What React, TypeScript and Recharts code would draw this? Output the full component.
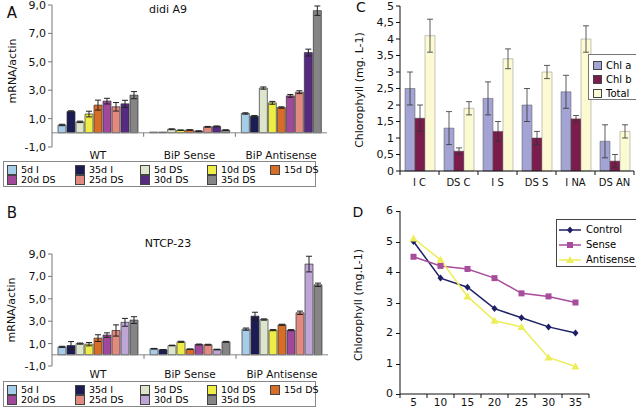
import React from 'react';
import { Bar, BarChart, ComposedChart, ErrorBar, Line, ReferenceLine, XAxis, YAxis } from 'recharts';

// panels A and B: mRNA/actin
const groups = ['WT', 'BiP Sense', 'BiP Antisense'];
const timePoints = ['5d I', '35d I', '5d DS', '10d DS', '15d DS', '20d DS', '25d DS', '30d DS', '35d DS'];

const didiWT = [0.55, 1.5, 0.77, 1.32, 1.95, 2.23, 1.83, 2.04, 2.65];
const didiWTErr = [0.05, 0.05, 0.05, 0.2, 0.35, 0.2, 0.3, 0.25, 0.25];
const didiSense = [0.05, 0.05, 0.25, 0.18, 0.2, 0.12, 0.42, 0.45, 0.19];
const didiSenseErr = [0, 0, 0.03, 0.02, 0.02, 0.02, 0.03, 0.03, 0.02];
const didiAnti = [1.36, 1.17, 3.15, 2.11, 1.78, 2.6, 2.86, 5.65, 8.6];
const didiAntiErr = [0.05, 0.05, 0.08, 0.1, 0.05, 0.1, 0.1, 0.24, 0.33];

const ntcpWT = [0.71, 0.83, 1.0, 0.95, 1.49, 1.76, 2.17, 2.9, 3.1];
const ntcpWTErr = [0.05, 0.35, 0.05, 0.15, 0.3, 0.2, 0.5, 0.35, 0.3];
const ntcpSense = [0.54, 0.45, 0.83, 1.16, 0.5, 0.92, 0.9, 0.47, 1.16];
const ntcpSenseErr = [0.03, 0.02, 0.03, 0.05, 0.02, 0.04, 0.04, 0.03, 0.04];
const ntcpAnti = [2.29, 3.45, 3.15, 2.2, 2.68, 2.2, 3.75, 8.1, 6.25];
const ntcpAntiErr = [0.1, 0.35, 0.06, 0.05, 0.05, 0.05, 0.15, 0.7, 0.15];

const mrnaTicks = [-1, 1, 3, 5, 7, 9];

const colorsA = ['#a6cde8', '#1c1c54', '#dde6cc', '#eded45', '#d86d28', '#a0489a', '#e08a80', '#552a80', '#858585'];
const colorsB = ['#a6cde8', '#1c1c54', '#dde6cc', '#eded45', '#d86d28', '#a0489a', '#e08a80', '#bda6d6', '#858585'];

// panel C: chlorophyll per line
const lines = ['I C', 'DS C', 'I S', 'DS S', 'I NA', 'DS AN'];
const chlA = [2.5, 1.3, 2.2, 2.0, 2.4, 0.9];
const chlAErr = [0.5, 0.5, 0.5, 0.5, 0.5, 0.5];
const chlB = [1.6, 0.6, 1.2, 1.0, 1.58, 0.3];
const chlBErr = [0.4, 0.1, 0.3, 0.2, 0.1, 0.2];
const chlTotal = [4.1, 1.9, 3.4, 3.0, 4.0, 1.2];
const chlTotalErr = [0.5, 0.2, 0.3, 0.2, 0.4, 0.2];
const chlTicks = [0, 0.5, 1, 1.5, 2, 2.5, 3, 3.5, 4, 4.5, 5];

// panel D: chlorophyll over days
const days = ['5', '10', '15', '20', '25', '30', '35'];
const control = [5.0, 3.8, 3.5, 2.8, 2.5, 2.2, 2.0];
const sense = [4.5, 4.2, 4.1, 3.8, 3.3, 3.2, 3.0];
const antisense = [5.1, 4.4, 3.2, 2.4, 2.2, 1.2, 0.9];
const dayTicksY = [0, 1, 2, 3, 4, 5, 6];

const FONT = '"DejaVu Sans", Verdana, sans-serif';

// panel D plot box inside the page (used for its value labels)
const D_TOP = 211;
const D_H = 183;
const D_MAX = 6;

function buildGroupRows(vals: number[][], errs: number[][]) {
  return groups.map((g, gi) => {
    const row: Record<string, any> = { group: g };
    timePoints.forEach((_, i) => {
      row['v' + i] = vals[gi][i];
      row['e' + i] = errs[gi][i];
    });
    return row;
  });
}

const didiRows = buildGroupRows([didiWT, didiSense, didiAnti], [didiWTErr, didiSenseErr, didiAntiErr]);
const ntcpRows = buildGroupRows([ntcpWT, ntcpSense, ntcpAnti], [ntcpWTErr, ntcpSenseErr, ntcpAntiErr]);

const chlRows = lines.map((l, i) => ({
  line: l,
  a: chlA[i], ae: chlAErr[i],
  b: chlB[i], be: chlBErr[i],
  t: chlTotal[i], te: chlTotalErr[i],
}));

const dayRows = days.map((d, i) => ({ day: d, control: control[i], sense: sense[i], antisense: antisense[i] }));

const comma = (v: number) => v.toFixed(1).replace('.', ',');
const commaShort = (v: number) => String(v).replace('.', ',');

// category label under the plot, with a small tick on the zero line between groups
function makeGroupTick(half: number, zeroUp: number) {
  return (props: any) => {
    const { x, y, payload, index } = props;
    return (
      <g>
        {index > 0 && <line x1={x - half} x2={x - half} y1={y - zeroUp} y2={y - zeroUp + 4} stroke="#777" />}
        <text x={x} y={y + 5} dy="0.71em" textAnchor="middle" fontSize={10.5} fill="#111" fontFamily={FONT}>
          {payload.value}
        </text>
      </g>
    );
  };
}

// tick marks between categories, label in the middle
function makeEdgeTick(half: number, count: number, gap: number, size: number) {
  return (props: any) => {
    const { x, y, payload, index } = props;
    return (
      <g>
        <line x1={x - half} x2={x - half} y1={y} y2={y + 4} stroke="#111" />
        {index === count - 1 && <line x1={x + half} x2={x + half} y1={y} y2={y + 4} stroke="#111" />}
        <text x={x} y={y + gap} dy="0.71em" textAnchor="middle" fontSize={size} fill="#111" fontFamily={FONT}>
          {payload.value}
        </text>
      </g>
    );
  };
}

function diamond(color: string) {
  return (p: any) => (
    <polygon key={p.index} points={`${p.cx},${p.cy - 3.5} ${p.cx + 3},${p.cy} ${p.cx},${p.cy + 3.5} ${p.cx - 3},${p.cy}`} fill={color} />
  );
}
function square(color: string) {
  return (p: any) => <rect key={p.index} x={p.cx - 3} y={p.cy - 3} width={6} height={6} fill={color} />;
}
function triangle(color: string) {
  return (p: any) => (
    <polygon key={p.index} points={`${p.cx},${p.cy - 4} ${p.cx + 4},${p.cy + 3} ${p.cx - 4},${p.cy + 3}`} fill={color} />
  );
}

function Text({ x, y, size = 11, children, rotate = false }: any) {
  return (
    <div
      style={{
        position: 'absolute', left: x, top: y, fontSize: size, fontFamily: FONT, color: '#111',
        whiteSpace: 'nowrap', lineHeight: 1, pointerEvents: 'none',
        transform: rotate ? 'translate(-50%, -50%) rotate(-90deg)' : 'translate(-50%, -50%)',
      }}
    >
      {children}
    </div>
  );
}

function TimeLegend({ top, colors }: { top: number; colors: string[] }) {
  const cols = [6, 74, 139, 206, 269];
  return (
    <div style={{ position: 'absolute', left: 3, top, width: 313, height: 26, border: '1px solid #888', boxSizing: 'border-box' }}>
      {timePoints.map((t, i) => (
        <div
          key={t}
          style={{
            position: 'absolute', left: cols[i % 5] - 3, top: i < 5 ? 3 : 13, whiteSpace: 'nowrap',
            display: 'flex', alignItems: 'center', fontSize: 9.5, fontFamily: FONT, lineHeight: '10px',
          }}
        >
          <span style={{ width: 8, height: 8, background: colors[i], border: '1px solid #444', marginRight: 4, display: 'inline-block' }} />
          {t}
        </div>
      ))}
    </div>
  );
}

function MrnaChart({ rows, colors, width, height, margin, xHeight, half, zeroUp }: any) {
  return (
    <BarChart width={width} height={height} data={rows} margin={margin} barGap={1}>
      <XAxis
        dataKey="group"
        axisLine={false}
        tickLine={false}
        tickSize={0}
        tickMargin={0}
        height={xHeight}
        interval={0}
        tick={makeGroupTick(half, zeroUp)}
      />
      <YAxis
        domain={[-1, 9]}
        ticks={mrnaTicks}
        tickFormatter={comma}
        width={52}
        stroke="#777"
        tickSize={4}
        tick={{ fill: '#111', fontSize: 11, fontFamily: FONT }}
        interval={0}
      />
      <ReferenceLine y={0} stroke="#888" />
      {timePoints.map((t, i) => (
        <Bar key={t} dataKey={'v' + i} name={t} fill={colors[i]} stroke="#333" strokeWidth={0.7} barSize={8} isAnimationActive={false}>
          <ErrorBar dataKey={'e' + i} width={3} stroke="#222" strokeWidth={1} direction="y" />
        </Bar>
      ))}
    </BarChart>
  );
}

const legendItem = { display: 'flex', alignItems: 'center', height: 14, whiteSpace: 'nowrap' } as const;

export default function App() {
  return (
    <div style={{ position: 'absolute', left: 0, top: 0, width: 636, height: 410, background: '#fff', overflow: 'hidden', fontFamily: FONT }}>
      {/* A */}
      <div style={{ position: 'absolute', left: 0, top: 0 }}>
        <MrnaChart
          rows={didiRows}
          colors={colorsA}
          width={330}
          height={160}
          margin={{ top: 5, right: 3, bottom: 0, left: 0 }}
          xHeight={13}
          half={275 / 6}
          zeroUp={14.2}
        />
      </div>
      <Text x={12} y={13} size={15}>A</Text>
      <Text x={168} y={9} size={11}>didi A9</Text>
      <Text x={12} y={71} size={11} rotate>mRNA/actin</Text>
      <TimeLegend top={161} colors={colorsA} />

      {/* B */}
      <div style={{ position: 'absolute', left: 0, top: 240 }}>
        <MrnaChart
          rows={ntcpRows}
          colors={colorsB}
          width={330}
          height={140}
          margin={{ top: 14, right: 2, bottom: 0, left: 0 }}
          xHeight={14}
          half={276 / 6}
          zeroUp={11.2}
        />
      </div>
      <Text x={12} y={213} size={15}>B</Text>
      <Text x={168} y={243} size={11}>NTCP-23</Text>
      <Text x={11} y={310} size={11} rotate>mRNA/actin</Text>
      <TimeLegend top={381} colors={colorsB} />

      {/* C */}
      <div style={{ position: 'absolute', left: 330, top: 0 }}>
        <BarChart width={306} height={195} data={chlRows} margin={{ top: 6, right: 2, bottom: 0, left: 0 }} barGap={0}>
          <XAxis
            dataKey="line"
            stroke="#111"
            tickLine={false}
            tickSize={0}
            tickMargin={0}
            height={24}
            interval={0}
            tick={makeEdgeTick(234 / 12, lines.length, 8, 10)}
          />
          <YAxis
            domain={[0, 5]}
            ticks={chlTicks}
            tickFormatter={commaShort}
            width={70}
            stroke="#111"
            tickSize={4}
            interval={0}
            tick={{ fill: '#111', fontSize: 11, fontFamily: FONT }}
          />
          <Bar dataKey="a" name="Chl a" fill="#a3a3d4" stroke="#555" strokeWidth={0.5} barSize={10} isAnimationActive={false}>
            <ErrorBar dataKey="ae" width={3} stroke="#333" strokeWidth={0.8} direction="y" />
          </Bar>
          <Bar dataKey="b" name="Chl b" fill="#7a1c4c" stroke="#555" strokeWidth={0.5} barSize={10} isAnimationActive={false}>
            <ErrorBar dataKey="be" width={3} stroke="#333" strokeWidth={0.8} direction="y" />
          </Bar>
          <Bar dataKey="t" name="Total" fill="#fbfad2" stroke="#888" strokeWidth={0.5} barSize={10} isAnimationActive={false}>
            <ErrorBar dataKey="te" width={3} stroke="#333" strokeWidth={0.8} direction="y" />
          </Bar>
        </BarChart>
      </div>
      <Text x={361} y={7} size={14}>C</Text>
      <Text x={359} y={90} size={11} rotate>Chlorophyll (mg. L-1)</Text>
      <div
        style={{
          position: 'absolute', left: 588, top: 54, width: 60, height: 46, border: '1px solid #777', background: '#fff',
          boxSizing: 'border-box', padding: '3px 0 0 4px', fontSize: 10, fontFamily: FONT,
        }}
      >
        {[['Chl a', '#a3a3d4'], ['Chl b', '#7a1c4c'], ['Total', '#fbfad2']].map(([n, c]) => (
          <div key={n} style={legendItem}>
            <span style={{ width: 7, height: 7, background: c, border: '1px solid #444', marginRight: 4, display: 'inline-block' }} />
            {n}
          </div>
        ))}
      </div>

      {/* D */}
      <div style={{ position: 'absolute', left: 330, top: 200 }}>
        <ComposedChart width={306} height={210} data={dayRows} margin={{ top: 11, right: 47, bottom: 0, left: 0 }}>
          <XAxis
            dataKey="day"
            scale="band"
            stroke="#111"
            tickLine={false}
            tickSize={0}
            tickMargin={0}
            height={16}
            interval={0}
            tick={makeEdgeTick(189 / 14, days.length, 5, 10.5)}
          />
          <YAxis domain={[0, D_MAX]} ticks={dayTicksY} width={70} stroke="#111" tick={false} tickLine={false} />
          <Line dataKey="control" name="Control" stroke="#1f1f66" strokeWidth={1.5} dot={diamond('#1f1f66')} isAnimationActive={false} />
          <Line dataKey="sense" name="Sense" stroke="#a84c9c" strokeWidth={1.5} dot={square('#a84c9c')} isAnimationActive={false} />
          <Line dataKey="antisense" name="Antisense" stroke="#eded5a" strokeWidth={1.5} dot={triangle('#eded5a')} isAnimationActive={false} />
        </ComposedChart>
      </div>
      <Text x={358} y={212} size={14}>D</Text>
      <Text x={358} y={305} size={11} rotate>Chlorophyll (mg.L-1)</Text>
      <div style={{ position: 'absolute', left: 0, top: 0, width: 636, height: 410, zIndex: 10, pointerEvents: 'none' }}>
        {dayTicksY.map((v) => {
          const y = D_TOP + ((D_MAX - v) / D_MAX) * D_H;
          return (
            <React.Fragment key={v}>
              <div style={{ position: 'absolute', left: 396, top: Math.round(y), width: 4, height: 1, background: '#111' }} />
              <div
                style={{
                  position: 'absolute', left: 370, width: 23, top: Math.round(y) - 6, textAlign: 'right',
                  fontSize: 11, lineHeight: '12px', fontFamily: FONT, color: '#111',
                }}
              >
                {String(v)}
              </div>
            </React.Fragment>
          );
        })}
      </div>
      <div
        style={{
          position: 'absolute', left: 556, top: 219, width: 84, height: 48, border: '1px solid #444', background: '#fff',
          boxSizing: 'border-box', padding: '2px 0 0 2px', fontSize: 10, fontFamily: FONT, zIndex: 11,
        }}
      >
        {[
          ['Control', '#1f1f66', 'd'],
          ['Sense', '#a84c9c', 's'],
          ['Antisense', '#eded5a', 't'],
        ].map(([n, c, k]) => (
          <div key={n} style={{ ...legendItem, height: 15 }}>
            <svg width={22} height={10} style={{ marginRight: 5 }}>
              <line x1={0} x2={22} y1={5} y2={5} stroke={c} strokeWidth={1.5} />
              {k === 'd' && <polygon points="11,1.5 14,5 11,8.5 8,5" fill={c} />}
              {k === 's' && <rect x={8} y={2} width={6} height={6} fill={c} />}
              {k === 't' && <polygon points="11,1 15,8 7,8" fill={c} />}
            </svg>
            {n}
          </div>
        ))}
      </div>
    </div>
  );
}
